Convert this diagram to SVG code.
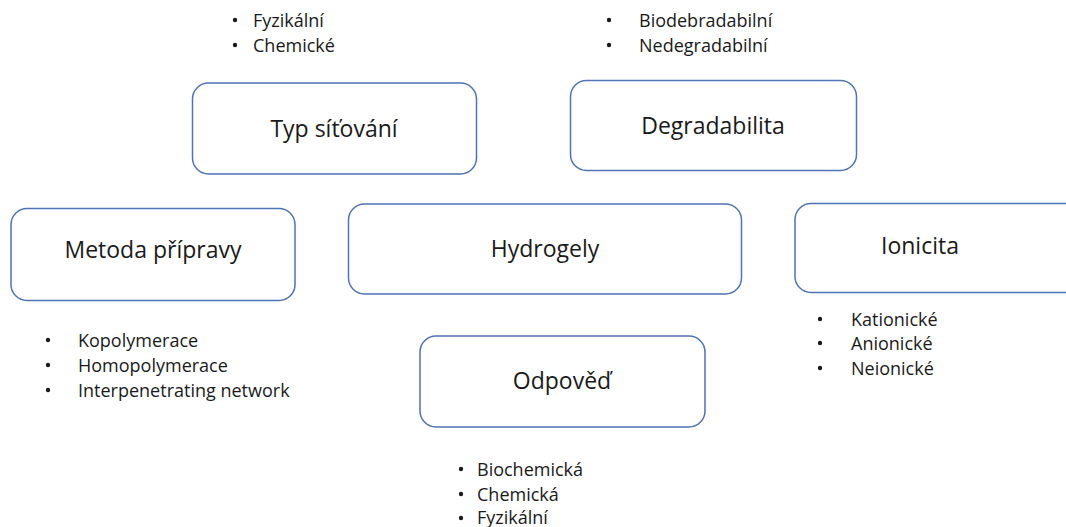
<svg xmlns="http://www.w3.org/2000/svg" width="1066" height="527" viewBox="0 0 1066 527">
<style>
.box{fill:#fff;stroke:#4f73b3;stroke-width:1.5}
.lbl{font-family:"Open Sans","Noto Sans",sans-serif;font-size:23px;fill:#1a1a1a;text-anchor:middle}
.li{font-family:"Open Sans","Noto Sans",sans-serif;font-size:18px;fill:#1a1a1a}
.b{fill:#1a1a1a}
</style>
<rect width="1066" height="527" fill="#fff"/>
<g id="connectors"></g>
<g id="typ">
<rect class="box" x="192.5" y="83" width="284" height="91" rx="16"/>
<text class="lbl" x="334" y="137">Typ síťování</text>
<circle class="b" cx="235" cy="20" r="2.2"/><text class="li" x="253" y="27">Fyzikální</text>
<circle class="b" cx="235" cy="45" r="2.2"/><text class="li" x="253" y="52">Chemické</text>
</g>
<g id="degradabilita">
<rect class="box" x="570.5" y="80.5" width="286" height="90" rx="16"/>
<text class="lbl" x="713" y="134">Degradabilita</text>
<circle class="b" cx="609" cy="20" r="2.2"/><text class="li" x="639" y="27">Biodebradabilní</text>
<circle class="b" cx="609" cy="45" r="2.2"/><text class="li" x="639" y="52">Nedegradabilní</text>
</g>
<g id="metoda">
<rect class="box" x="11" y="208.5" width="284" height="92" rx="16"/>
<text class="lbl" x="153" y="258">Metoda přípravy</text>
<circle class="b" cx="48" cy="340" r="2.2"/><text class="li" x="78" y="347">Kopolymerace</text>
<circle class="b" cx="48" cy="365" r="2.2"/><text class="li" x="78" y="372">Homopolymerace</text>
<circle class="b" cx="48" cy="390" r="2.2"/><text class="li" x="78" y="397">Interpenetrating network</text>
</g>
<g id="hydrogely">
<rect class="box" x="348.5" y="204" width="393" height="90" rx="16"/>
<text class="lbl" x="545" y="257">Hydrogely</text>
</g>
<g id="ionicita">
<rect class="box" x="795" y="203.5" width="290" height="89" rx="16"/>
<text class="lbl" x="920" y="254">Ionicita</text>
<circle class="b" cx="820" cy="319" r="2.2"/><text class="li" x="851" y="326">Kationické</text>
<circle class="b" cx="820" cy="343" r="2.2"/><text class="li" x="851" y="350">Anionické</text>
<circle class="b" cx="820" cy="368" r="2.2"/><text class="li" x="851" y="375">Neionické</text>
</g>
<g id="odpoved">
<rect class="box" x="420" y="336" width="285" height="91" rx="16"/>
<text class="lbl" x="562" y="389">Odpověď</text>
<circle class="b" cx="461" cy="469" r="2.2"/><text class="li" x="477" y="476">Biochemická</text>
<circle class="b" cx="461" cy="494" r="2.2"/><text class="li" x="477" y="501">Chemická</text>
<circle class="b" cx="461" cy="518" r="2.2"/><text class="li" x="477" y="524">Fyzikální</text>
</g>
</svg>
